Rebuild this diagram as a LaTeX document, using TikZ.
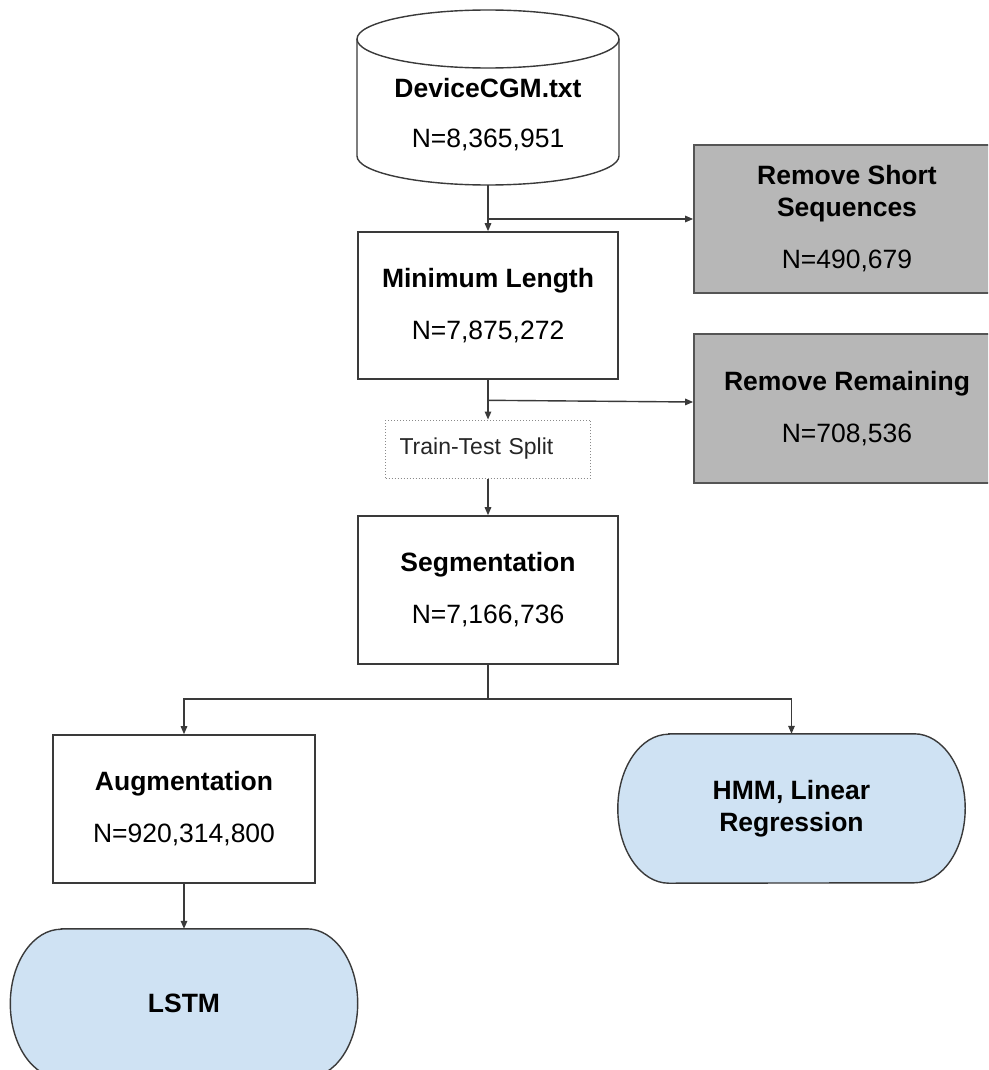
\documentclass[tikz,border=0pt]{standalone}
\usepackage{fontspec}
\setmainfont{Liberation Sans}
\usetikzlibrary{arrows.meta,calc}
\definecolor{lineclr}{HTML}{3A3A3A}
\definecolor{grayfill}{HTML}{B7B7B7}
\definecolor{grayline}{HTML}{555555}
\definecolor{bluefill}{HTML}{CFE2F3}
\definecolor{dotclr}{HTML}{8A8A8A}
\tikzset{
  bigtext/.style={font=\fontsize{26.5}{32}\selectfont, align=center, text=black},
  whitebox/.style={bigtext, draw=lineclr, line width=1.6pt, fill=white, inner sep=0pt},
  graybox/.style={bigtext, draw=grayline, line width=1.8pt, fill=grayfill, inner sep=0pt},
  termnode/.style={bigtext, inner sep=0pt},
  termline/.style={draw=lineclr, line width=1.4pt, fill=bluefill},
  splitbox/.style={draw=dotclr, line width=1pt, dotted, inner xsep=14pt, inner ysep=0pt,
    font=\fontsize{23}{27}\selectfont, text=black!85, align=left},
  conn/.style={draw=lineclr, line width=1.4pt, -{Triangle[length=8pt,width=6.5pt]}},
  plain/.style={draw=lineclr, line width=1.4pt},
}
\begin{document}
\begin{tikzpicture}[x=1pt,y=-1pt]
\useasboundingbox (0,0) rectangle (988,1070);
\clip (0,0) rectangle (988,1070);
\fill[white] (0,0) rectangle (988,1070);

% cylinder
\draw[lineclr, line width=1.4pt, fill=white]
  (357,39) -- (357,156) arc[start angle=180, end angle=360, x radius=131pt, y radius=29pt]
  -- (619,39) arc[start angle=0, end angle=180, x radius=131pt, y radius=29pt];
\draw[lineclr, line width=1.4pt]
  (357,39) arc[start angle=180, end angle=360, x radius=131pt, y radius=29pt];
\node[bigtext] (db) at (488,115) {\textbf{DeviceCGM.txt}\\[18pt]N=8,365,951};
\coordinate (dbbot) at (488,185);

% boxes
\node[whitebox, minimum width=260pt, minimum height=147pt] (minlen) at (488,305.5)
  {\textbf{Minimum Length}\\[20pt]N=7,875,272};
\node[graybox, minimum width=306pt, minimum height=148pt] (rss) at (847,219)
  {\textbf{Remove Short}\\\textbf{Sequences}\\[20pt]N=490,679};
\node[graybox, minimum width=306pt, minimum height=149pt] (rr) at (847,408.5)
  {\textbf{Remove Remaining}\\[20pt]N=708,536};
\node[splitbox, text width=177pt, minimum height=58pt] (tts) at (488,449) {Train-Test Split};
\node[whitebox, minimum width=260pt, minimum height=148pt] (seg) at (488,590)
  {\textbf{Segmentation}\\[20pt]N=7,166,736};
\node[whitebox, minimum width=262pt, minimum height=148pt] (aug) at (184,809)
  {\textbf{Augmentation}\\[20pt]N=920,314,800};

% terminators
\node[termnode, minimum width=347pt, minimum height=149pt] (hmm) at (791.5,808.5) {};
\draw[termline] ([xshift=51pt]hmm.north west) -- ([xshift=-51pt]hmm.north east)
  arc[start angle=90, end angle=-90, x radius=51pt, y radius=74.5pt]
  -- ([xshift=51pt]hmm.south west)
  arc[start angle=270, end angle=90, x radius=51pt, y radius=74.5pt] -- cycle;
\node[bigtext] at (hmm.center) {\textbf{HMM, Linear}\\\textbf{Regression}};

\node[termnode, minimum width=347pt, minimum height=149pt] (lstm) at (184,1003.5) {};
\draw[termline] ([xshift=51pt]lstm.north west) -- ([xshift=-51pt]lstm.north east)
  arc[start angle=90, end angle=-90, x radius=51pt, y radius=74.5pt]
  -- ([xshift=51pt]lstm.south west)
  arc[start angle=270, end angle=90, x radius=51pt, y radius=74.5pt] -- cycle;
\node[bigtext] at (lstm.center) {\textbf{LSTM}};

% connectors
\coordinate (j1) at (dbbot |- rss.west);
\draw[conn] (dbbot) -- (minlen.north);
\draw[conn] (j1) -- (rss.west);

\coordinate (j2) at ($(minlen.south)+(0,20.5)$);
\coordinate (rrin) at ($(rr.west)+(0,-6.5)$);
\draw[conn] (minlen.south) -- (tts.north);
\draw[conn] (j2) -- (rrin);

\draw[conn] (tts.south) -- (seg.north);

\coordinate (j3) at ($(seg.south)+(0,34)$);
\draw[plain] (seg.south) -- (j3);
\draw[conn] (j3) -| (aug.north);
\draw[conn] (j3) -| (hmm.north);

\draw[conn] (aug.south) -- (lstm.north);
\end{tikzpicture}
\end{document}
